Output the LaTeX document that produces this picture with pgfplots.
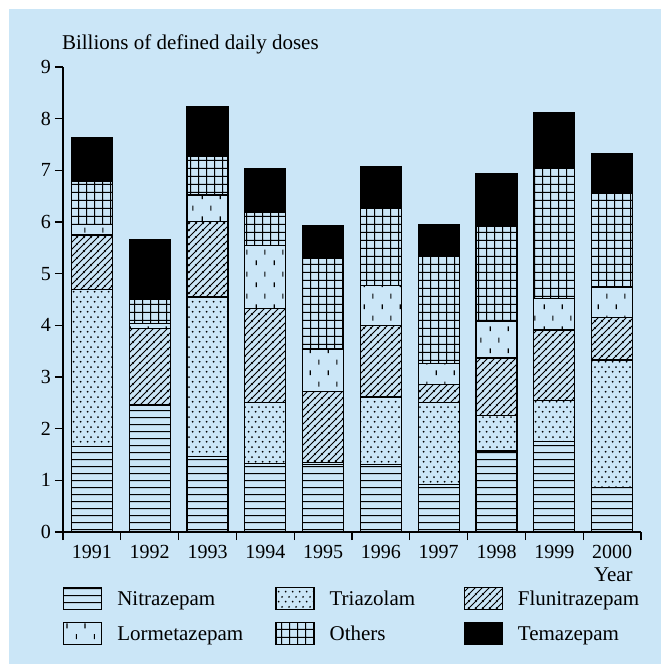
\documentclass[border=0pt]{standalone}
\usepackage{fontspec}
\setmainfont{Liberation Serif}
\usepackage{pgfplots}
\pgfplotsset{compat=1.18}
\usetikzlibrary{patterns,patterns.meta}
\definecolor{bg}{RGB}{203,230,247}

\pgfdeclarepattern{name=hlinesC, parameters={}, bottom left={\pgfpoint{0pt}{0pt}}, top right={\pgfpoint{8pt}{7.3pt}}, tile size={\pgfpoint{8pt}{7.3pt}}, tile transformation={}, code={
  \pgfsetlinewidth{1.1pt}
  \pgfpathmoveto{\pgfpoint{-1pt}{3.65pt}}\pgfpathlineto{\pgfpoint{9pt}{3.65pt}}\pgfusepath{stroke}}}
\pgfdeclarepattern{name=dotsC, parameters={}, bottom left={\pgfpoint{0pt}{0pt}}, top right={\pgfpoint{7.3pt}{10pt}}, tile size={\pgfpoint{7.3pt}{10pt}}, tile transformation={}, code={
  \pgfpathcircle{\pgfpoint{1.8pt}{2.5pt}}{1.05pt}
  \pgfpathcircle{\pgfpoint{5.45pt}{7.5pt}}{1.05pt}\pgfusepath{fill}}}
\pgfdeclarepattern{name=diagC, parameters={}, bottom left={\pgfpoint{0pt}{0pt}}, top right={\pgfpoint{7pt}{7pt}}, tile size={\pgfpoint{7pt}{7pt}}, tile transformation={}, code={
  \pgfsetlinewidth{0.95pt}
  \pgfpathmoveto{\pgfpoint{-1pt}{-1pt}}\pgfpathlineto{\pgfpoint{8pt}{8pt}}
  \pgfpathmoveto{\pgfpoint{-1pt}{6pt}}\pgfpathlineto{\pgfpoint{1pt}{8pt}}
  \pgfpathmoveto{\pgfpoint{6pt}{-1pt}}\pgfpathlineto{\pgfpoint{8pt}{1pt}}\pgfusepath{stroke}}}
\pgfdeclarepattern{name=gridC, parameters={}, bottom left={\pgfpoint{0pt}{0pt}}, top right={\pgfpoint{7.5pt}{7.5pt}}, tile size={\pgfpoint{7.5pt}{7.5pt}}, tile transformation={}, code={
  \pgfsetlinewidth{1.1pt}
  \pgfpathmoveto{\pgfpoint{3.75pt}{-1pt}}\pgfpathlineto{\pgfpoint{3.75pt}{8.5pt}}
  \pgfpathmoveto{\pgfpoint{-1pt}{3.75pt}}\pgfpathlineto{\pgfpoint{8.5pt}{3.75pt}}\pgfusepath{stroke}}}
\pgfdeclarepattern{name=dashC, parameters={}, bottom left={\pgfpoint{0pt}{0pt}}, top right={\pgfpoint{18pt}{22pt}}, tile size={\pgfpoint{18pt}{22pt}}, tile transformation={}, code={
  \pgfsetlinewidth{1.1pt}
  \pgfpathmoveto{\pgfpoint{4.5pt}{3pt}}\pgfpathlineto{\pgfpoint{4.5pt}{8pt}}
  \pgfpathmoveto{\pgfpoint{13.5pt}{14pt}}\pgfpathlineto{\pgfpoint{13.5pt}{19pt}}\pgfusepath{stroke}}}

\begin{document}
\fontsize{21}{25}\selectfont
\begin{tikzpicture}
\fill[white] (0,0) rectangle (661pt,664pt);
\fill[bg] (9pt,0) rectangle (661pt,655pt);
\begin{axis}[
  at={(63pt,132pt)}, anchor=south west,
  scale only axis, width=578pt, height=465pt,
  font=\fontsize{21}{25}\selectfont,
  tick label style={font=\fontsize{20}{24}\selectfont},
  /pgf/number format/assume math mode=true,
  ybar stacked, bar width=41pt,
  xmin=-0.5, xmax=9.5, ymin=0, ymax=9,
  axis lines=left, axis line style={-, line width=1.3pt},
  tick align=outside, major tick length=8pt,
  tick style={line width=1.3pt, black},
  xtick={-0.5,0.5,1.5,2.5,3.5,4.5,5.5,6.5,7.5,8.5,9.5}, xticklabels={},
  extra x ticks={0,1,2,3,4,5,6,7,8,9},
  extra x tick labels={1991,1992,1993,1994,1995,1996,1997,1998,1999,2000},
  extra x tick style={major tick length=0pt, xticklabel style={anchor=base, yshift=-26pt}},
  ytick={0,1,2,3,4,5,6,7,8,9},
  yticklabels={0,1,2,3,4,5,6,7,8,9},
  yticklabel style={anchor=east, xshift=3pt},
  ylabel={Billions of defined daily doses},
  ylabel style={rotate=-90, inner sep=0pt, at={(axis description cs:-0.002,1.0366)}, anchor=base west},
  xlabel={Year},
  xlabel style={inner sep=0pt, at={(axis description cs:0.986,-0.1075)}, anchor=base east},
  every axis plot post/.append style={legend image code/.code={%
      \draw[##1, draw=black, line width=1.1pt] (0pt,-4pt) rectangle (38pt,18pt);
      \path (0pt,0pt) (53pt,0pt);}},
  legend columns=3,
  legend style={draw=none, fill=none, inner sep=0pt, outer sep=0pt,
    column sep=0pt, row sep=11.9pt,
    nodes={anchor=base west, inner sep=0pt},
    at={(axis description cs:0,-0.1183)}, anchor=north west},
]
\addplot[draw=black, line width=1.3pt, pattern=hlinesC] coordinates {(0,1.65) (1,2.46) (2,1.46) (3,1.32) (4,1.30) (5,1.31) (6,0.92) (7,1.57) (8,1.75) (9,0.86)};
\addplot[draw=black, line width=1.3pt, pattern=dotsC] coordinates {(0,3.05) (1,0) (2,3.09) (3,1.18) (4,0.05) (5,1.30) (6,1.58) (7,0.68) (8,0.80) (9,2.47)};
\addplot[draw=black, line width=1.3pt, pattern=diagC] coordinates {(0,1.05) (1,1.48) (2,1.46) (3,1.83) (4,1.37) (5,1.38) (6,0.36) (7,1.12) (8,1.36) (9,0.82)};
\addplot[draw=black, line width=1.3pt, pattern=dashC] coordinates {(0,0.20) (1,0.10) (2,0.51) (3,1.22) (4,0.82) (5,0.78) (6,0.40) (7,0.70) (8,0.61) (9,0.59)};
\addplot[draw=black, line width=1.3pt, pattern=gridC] coordinates {(0,0.83) (1,0.46) (2,0.76) (3,0.63) (4,1.75) (5,1.51) (6,2.07) (7,1.84) (8,2.52) (9,1.81)};
\addplot[draw=black, line width=1.3pt, fill=black] coordinates {(0,0.86) (1,1.15) (2,0.95) (3,0.85) (4,0.64) (5,0.79) (6,0.61) (7,1.02) (8,1.08) (9,0.77)};
\legend{\makebox[158pt][l]{Nitrazepam},\makebox[134pt][l]{Triazolam},Flunitrazepam,\makebox[158pt][l]{Lormetazepam},\makebox[134pt][l]{Others},Temazepam}
\end{axis}
\end{tikzpicture}
\end{document}
